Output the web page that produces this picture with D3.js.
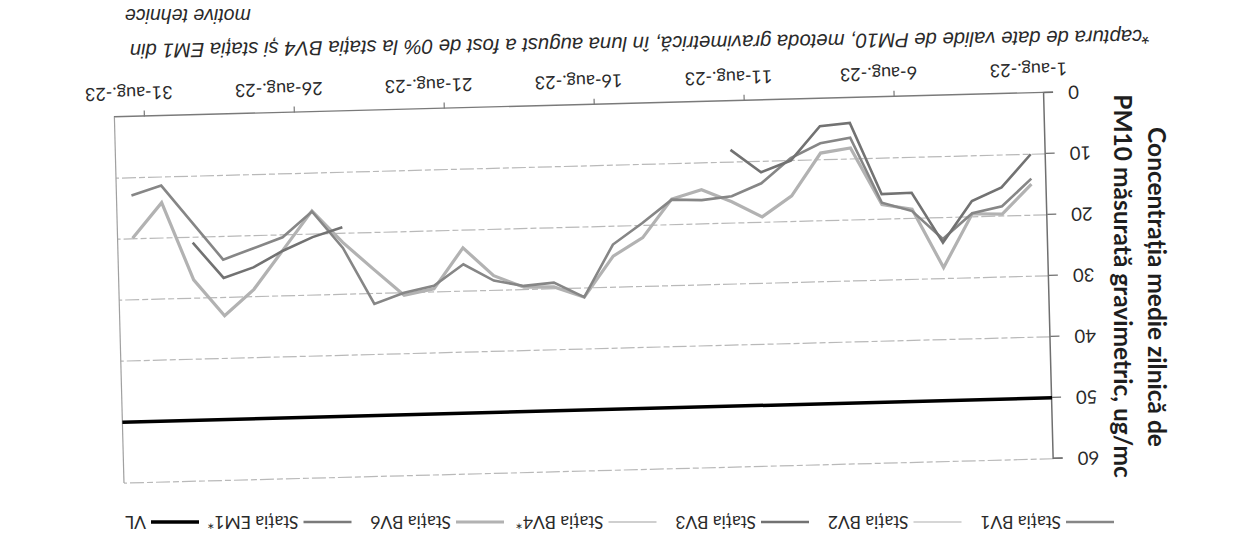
<!DOCTYPE html>
<html>
<head>
<meta charset="utf-8">
<script src="https://cdn.jsdelivr.net/npm/d3@7"></script>
<style>
  html, body { margin: 0; padding: 0; background: #ffffff; }
  svg { display: block; }
</style>
</head>
<body>
<svg id="chart" width="1234" height="555"></svg>
<script>
// ---------------- data ----------------
const categories = ["1-aug.-23","2-aug.-23","3-aug.-23","4-aug.-23","5-aug.-23","6-aug.-23","7-aug.-23","8-aug.-23","9-aug.-23","10-aug.-23",
  "11-aug.-23","12-aug.-23","13-aug.-23","14-aug.-23","15-aug.-23","16-aug.-23","17-aug.-23","18-aug.-23","19-aug.-23","20-aug.-23",
  "21-aug.-23","22-aug.-23","23-aug.-23","24-aug.-23","25-aug.-23","26-aug.-23","27-aug.-23","28-aug.-23","29-aug.-23","30-aug.-23","31-aug.-23"];
const xTickLabels = ["1-aug.-23","6-aug.-23","11-aug.-23","16-aug.-23","21-aug.-23","26-aug.-23","31-aug.-23"];
const yTicks = [0, 10, 20, 30, 40, 50, 60];

const bv1 = [14.0,18.4,19.4,23.5,18.8,17.3,6.5,7.3,9.6,13.6,15.6,16.1,15.9,19.6,23.0,31.5,29.0,29.4,28.4,25.6,29.0,30.0,31.7,22.4,16.3,20.4,22.1,23.8,17.6,11.4,12.9];
const bv2 = new Array(31).fill(null);
const bv3 = [10.0,15.3,17.4,24.1,15.8,15.9,4.1,4.5,10.0,11.8,8.0,null,null,null,null,null,null,null,null,null,null,null,null,19.0,20.5,22.6,25.2,26.8,20.9,null,null];
const bv4 = new Array(31).fill(null);
const bv6 = [14.9,19.7,19.5,28.2,18.5,17.6,8.2,8.9,15.8,19.1,16.5,14.4,15.8,22.0,24.9,31.5,29.7,29.6,27.6,22.9,29.5,30.4,26.0,21.5,16.2,22.5,28.8,33.0,27.0,14.2,19.9];
const em1 = new Array(31).fill(null);
const vlValue = 50;

const seriesNames = ["Stația BV1","Stația BV2","Stația BV3","Stația BV4*","Stația BV6","Stația EM1*","VL"];
const seriesColors = ["#868686","#d6d6d6","#727272","#cfcfcf","#b2b2b2","#7a7a7a","#000000"];
const seriesWidths = [2.6, 2, 2.6, 2, 3.2, 2.5, 3.5];
const seriesData = [bv1, bv2, bv3, bv4, bv6, em1];

const yTitle1 = "Concentrația medie zilnică de";
const yTitle2 = "PM10 măsurată gravimetric, ug/mc";
const note1 = "*captura de date valide de PM10, metoda gravimetrică, în luna august a fost de 0% la stația BV4 și stația EM1 din";
const note2 = "motive tehnice";

// ---------------- drawing ----------------
const svg = d3.select("#chart");
const root = svg.append("g").attr("transform", "rotate(180 617 277.5)");
const plot = root.append("g").attr("transform", "rotate(-1.5 650 268)");

const x = d3.scaleBand().domain(categories).range([185, 1115]).padding(0);
const y = d3.scaleLinear().domain([0, 60]).range([450, 84]);
const [x0, x1] = x.range();
const cx = d => x(d) + x.bandwidth() / 2;

// gridlines
plot.append("g").selectAll("line").data(yTicks.filter(v => v > 0)).join("line")
  .attr("x1", x0).attr("x2", x1)
  .attr("y1", d => y(d)).attr("y2", d => y(d))
  .attr("stroke", "#b9b9b9").attr("stroke-width", 1.2)
  .attr("stroke-dasharray", "14 3 6 3");

// plot border (far side)
plot.append("line").attr("x1", x1).attr("x2", x1).attr("y1", y(0)).attr("y2", y(60))
  .attr("stroke", "#a0a0a0").attr("stroke-width", 1.2);

// y axis
const yAxis = plot.append("g").attr("transform", `translate(${x0},0)`)
  .call(d3.axisLeft(y).tickValues(yTicks).tickSize(9).tickPadding(15).tickFormat(d3.format("d")));
yAxis.select(".domain").attr("stroke", "#6f6f6f").attr("stroke-width", 1.5);
yAxis.selectAll(".tick line").attr("stroke", "#6f6f6f").attr("stroke-width", 1.2);
yAxis.selectAll(".tick text").attr("font-family", "Lato, 'Open Sans', sans-serif")
  .attr("font-size", 18.5).attr("fill", "#2a2a2a");

// x axis (labels at category centres)
const xAxis = plot.append("g").attr("transform", `translate(0,${y(0)})`)
  .call(d3.axisBottom(x).tickValues(xTickLabels).tickSize(0).tickPadding(17));
xAxis.select(".domain").attr("stroke", "#7a7a7a").attr("stroke-width", 1.4);
xAxis.selectAll(".tick text").attr("font-family", "Lato, 'Open Sans', sans-serif")
  .attr("font-size", 18).attr("fill", "#2a2a2a");
// x tick marks at category start
plot.append("g").selectAll("line").data(xTickLabels.slice(1)).join("line")
  .attr("x1", d => x(d)).attr("x2", d => x(d))
  .attr("y1", y(0)).attr("y2", y(0) + 6)
  .attr("stroke", "#7a7a7a").attr("stroke-width", 1.2);

// VL line
plot.append("line").attr("x1", x0).attr("x2", x1)
  .attr("y1", y(vlValue)).attr("y2", y(vlValue))
  .attr("stroke", seriesColors[6]).attr("stroke-width", seriesWidths[6]);

// series lines
const line = d3.line().defined(d => d != null).x((d, i) => cx(categories[i])).y(d => y(d));
const drawOrder = [4, 1, 3, 0, 5, 2];
drawOrder.forEach(k => {
  plot.append("path").datum(seriesData[k])
    .attr("fill", "none")
    .attr("stroke", seriesColors[k])
    .attr("stroke-width", seriesWidths[k])
    .attr("stroke-linejoin", "miter")
    .attr("d", line);
});

// y axis title (two lines)
[yTitle1, yTitle2].forEach((t, i) => {
  root.append("text")
    .attr("transform", `translate(${i === 0 ? 77 : 111},${i === 0 ? 268 : 269}) rotate(-90)`)
    .attr("text-anchor", "middle").attr("dy", "0.35em")
    .attr("font-family", "Lato, 'Open Sans', sans-serif")
    .attr("font-weight", "bold").attr("font-size", 24.5).attr("fill", "#1e1e1e")
    .text(t);
});

// legend
const legend = root.append("g");
seriesNames.forEach((name, i) => {
  const lx = 120 + i * 152.5;
  legend.append("line").attr("x1", lx).attr("x2", lx + 48).attr("y1", 33).attr("y2", 33)
    .attr("stroke", seriesColors[i]).attr("stroke-width", seriesWidths[i]);
  legend.append("text").attr("x", lx + 53).attr("y", 33).attr("dy", "0.35em")
    .attr("font-family", "Lato, 'Open Sans', sans-serif").attr("font-size", 17.5)
    .attr("fill", "#2a2a2a").text(name);
});

// footnote
root.append("g").attr("transform", "rotate(-0.8 600 518)")
  .append("text").attr("x", 84).attr("y", 518)
  .attr("font-family", "'Liberation Sans', Arial, sans-serif").attr("font-style", "italic")
  .attr("font-size", 20.3).attr("fill", "#2a2a2a").text(note1);
root.append("text").attr("x", 1109).attr("y", 546).attr("text-anchor", "end")
  .attr("font-family", "'Liberation Sans', Arial, sans-serif").attr("font-style", "italic")
  .attr("font-size", 19.5).attr("fill", "#2a2a2a").text(note2);
</script>
</body>
</html>
